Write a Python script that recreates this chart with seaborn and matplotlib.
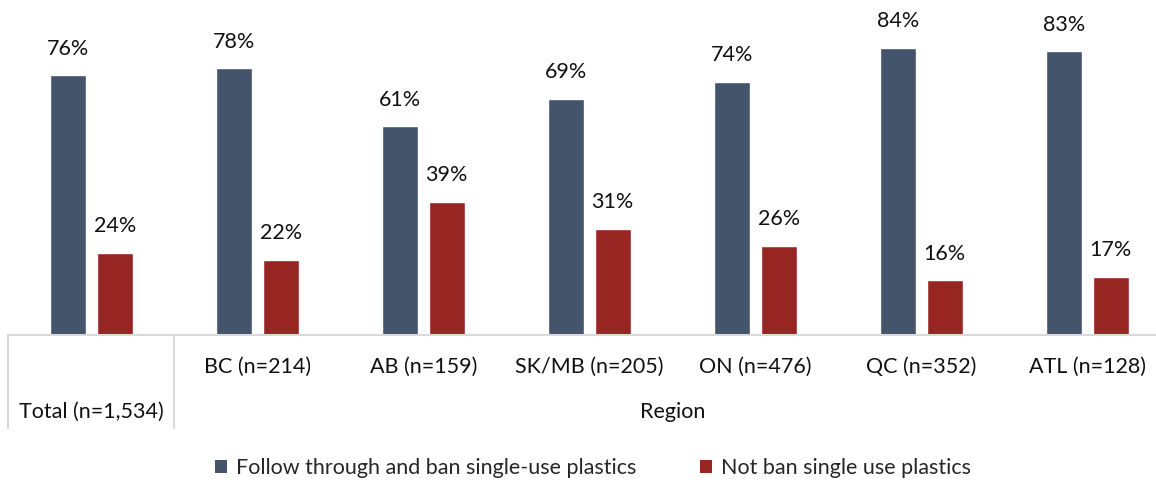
import matplotlib
matplotlib.use("Agg")
import matplotlib.pyplot as plt
import matplotlib.transforms as mtransforms
from matplotlib.patches import Patch
import seaborn as sns
import pandas as pd

# Survey results by region
categories = ["Total (n=1,534)", "BC (n=214)", "AB (n=159)", "SK/MB (n=205)",
              "ON (n=476)", "QC (n=352)", "ATL (n=128)"]
series_names = ["Follow through and ban single-use plastics",
                "Not ban single use plastics"]
follow_through = [76, 78, 61, 69, 74, 84, 83]
not_ban = [24, 22, 39, 31, 26, 16, 17]
group_labels = ["Total (n=1,534)", "Region"]

colors = ["#44546A", "#972623"]

df = pd.DataFrame({
    "category": categories * 2,
    "series": [series_names[0]] * len(categories) + [series_names[1]] * len(categories),
    "value": follow_through + not_ban,
})

sns.set_theme(style="white")
plt.rcParams["font.family"] = ["Lato", "DejaVu Sans"]
FS = 15.5
TXT = "#111111"

W, H = 1156, 482
fig = plt.figure(figsize=(W / 100, H / 100), dpi=100)
ax = fig.add_axes([8 / W, 147 / H, (W - 8) / W, 335 / H])

sns.barplot(data=df, x="category", y="value", hue="series", order=categories,
            hue_order=series_names, palette=colors, width=0.56, gap=0.22,
            saturation=1, ax=ax, legend=False)

ax.set_ylim(0, 98)
ax.set_xlim(-0.503, 6.413)
ax.set_xlabel("")
ax.set_ylabel("")
ax.set_yticks([])
ax.set_xticks([])
for side in ["top", "right", "left"]:
    ax.spines[side].set_visible(False)
ax.spines["bottom"].set_color("#D9D9D9")
ax.spines["bottom"].set_linewidth(1.5)

# Value labels above bars
for container in ax.containers:
    ax.bar_label(container, fmt="%g%%", padding=12, fontsize=FS, color=TXT)

# Two-level category axis
trans = mtransforms.blended_transform_factory(ax.transData, ax.transAxes)
px = 1 / 335  # one pixel in axes-fraction units (vertical)
for i, cat in enumerate(categories[1:], start=1):
    ax.text(i, -32 * px, cat, transform=trans, ha="center", va="center",
            fontsize=FS, color=TXT, clip_on=False)
ax.text(0, -77 * px, group_labels[0], transform=trans, ha="center", va="center",
        fontsize=FS, color=TXT, clip_on=False)
ax.text(3.5, -77 * px, group_labels[1], transform=trans, ha="center", va="center",
        fontsize=FS, color=TXT, clip_on=False)
for xv in (-0.5, 0.5):
    ax.plot([xv, xv], [0, -93 * px], transform=trans, color="#D9D9D9",
            lw=1.5, clip_on=False)

# Legend
handles = [Patch(facecolor=c, edgecolor="none") for c in colors]
fig.legend(handles, series_names, loc="center", bbox_to_anchor=(593 / W, 1 - 468 / H),
           ncol=2, frameon=False, fontsize=FS, handlelength=0.55, handleheight=0.55,
           handletextpad=0.4, columnspacing=3.0)

fig.savefig("out.png", dpi=100)
